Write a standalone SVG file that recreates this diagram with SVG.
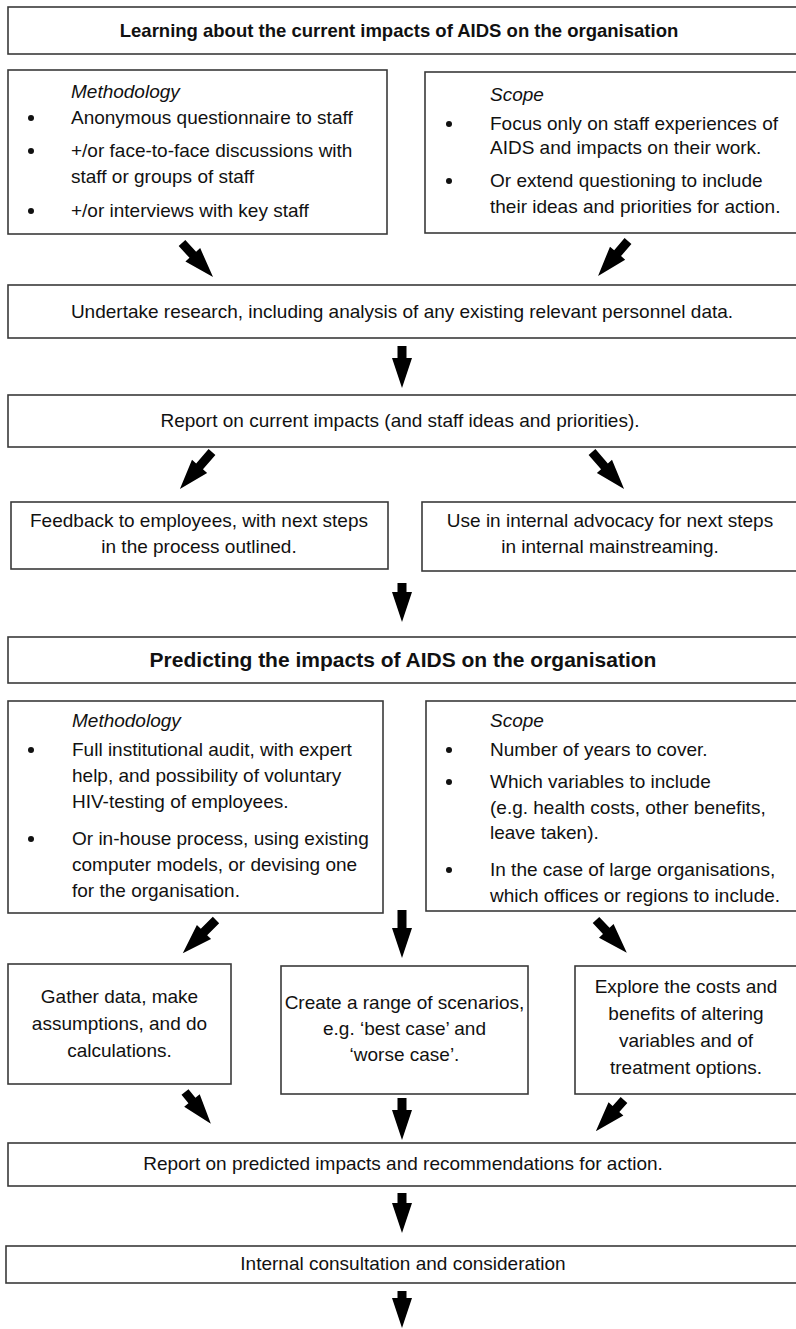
<svg xmlns="http://www.w3.org/2000/svg" xmlns:xlink="http://www.w3.org/1999/xlink" width="796" height="1329" viewBox="0 0 796 1329">
  <style>
    .box { fill: #ffffff; stroke: #3a3a3a; stroke-width: 1.6; }
    .t { font-family: "Liberation Sans", Arial, sans-serif; font-size: 19px; fill: #111; }
    .c { text-anchor: middle; }
    .it { font-style: italic; }
    .h1 { font-family: "Liberation Sans", Arial, sans-serif; font-size: 18.5px; font-weight: bold; fill: #111; text-anchor: middle; }
    .h2 { font-family: "Liberation Sans", Arial, sans-serif; font-size: 21px; font-weight: bold; fill: #111; text-anchor: middle; }
    .dot { fill: #111; }
    .arr { fill: #000; }
  </style>
  <rect width="796" height="1329" fill="#ffffff"/>

  <!-- Section 1 -->
  <g id="title-learning">
    <rect class="box" x="8" y="7" width="790" height="47"/>
    <text class="h1" x="399" y="37">Learning about the current impacts of AIDS on the organisation</text>
  </g>

  <g id="methodology-1">
    <rect class="box" x="8" y="70" width="379" height="164"/>
    <text class="t it" x="71" y="98">Methodology</text>
    <circle class="dot" cx="31" cy="118" r="3"/>
    <text class="t" x="71" y="124">Anonymous questionnaire to staff</text>
    <circle class="dot" cx="31" cy="151" r="3"/>
    <text class="t" x="71" y="157">+/or face-to-face discussions with</text>
    <text class="t" x="71" y="183">staff or groups of staff</text>
    <circle class="dot" cx="31" cy="211" r="3"/>
    <text class="t" x="71" y="217">+/or interviews with key staff</text>
  </g>

  <g id="scope-1">
    <rect class="box" x="425" y="72" width="373" height="161"/>
    <text class="t it" x="490" y="101">Scope</text>
    <circle class="dot" cx="449" cy="124" r="3"/>
    <text class="t" x="490" y="130">Focus only on staff experiences of</text>
    <text class="t" x="490" y="154">AIDS and impacts on their work.</text>
    <circle class="dot" cx="449" cy="181" r="3"/>
    <text class="t" x="490" y="187">Or extend questioning to include</text>
    <text class="t" x="490" y="213">their ideas and priorities for action.</text>
  </g>

  <g id="research">
    <rect class="box" x="8" y="285" width="790" height="53"/>
    <text class="t c" x="402" y="318">Undertake research, including analysis of any existing relevant personnel data.</text>
  </g>

  <g id="report-current">
    <rect class="box" x="8" y="395" width="790" height="52"/>
    <text class="t c" x="400" y="427">Report on current impacts (and staff ideas and priorities).</text>
  </g>

  <g id="feedback">
    <rect class="box" x="11" y="502" width="377" height="67"/>
    <text class="t c" x="199" y="527">Feedback to employees, with next steps</text>
    <text class="t c" x="199" y="553">in the process outlined.</text>
  </g>

  <g id="advocacy">
    <rect class="box" x="422" y="502" width="376" height="69"/>
    <text class="t c" x="610" y="527">Use in internal advocacy for next steps</text>
    <text class="t c" x="610" y="553">in internal mainstreaming.</text>
  </g>

  <!-- Section 2 -->
  <g id="title-predicting">
    <rect class="box" x="8" y="637" width="790" height="46"/>
    <text class="h2" x="403" y="667">Predicting the impacts of AIDS on the organisation</text>
  </g>

  <g id="methodology-2">
    <rect class="box" x="8" y="701" width="375" height="212"/>
    <text class="t it" x="72" y="727">Methodology</text>
    <circle class="dot" cx="31" cy="750" r="3"/>
    <text class="t" x="72" y="756">Full institutional audit, with expert</text>
    <text class="t" x="72" y="782">help, and possibility of voluntary</text>
    <text class="t" x="72" y="808">HIV-testing of employees.</text>
    <circle class="dot" cx="31" cy="839" r="3"/>
    <text class="t" x="72" y="845">Or in-house process, using existing</text>
    <text class="t" x="72" y="871">computer models, or devising one</text>
    <text class="t" x="72" y="897">for the organisation.</text>
  </g>

  <g id="scope-2">
    <rect class="box" x="426" y="701" width="372" height="210"/>
    <text class="t it" x="490" y="727">Scope</text>
    <circle class="dot" cx="449" cy="750" r="3"/>
    <text class="t" x="490" y="756">Number of years to cover.</text>
    <circle class="dot" cx="449" cy="782" r="3"/>
    <text class="t" x="490" y="788">Which variables to include</text>
    <text class="t" x="490" y="814">(e.g. health costs, other benefits,</text>
    <text class="t" x="490" y="839">leave taken).</text>
    <circle class="dot" cx="449" cy="870" r="3"/>
    <text class="t" x="490" y="876">In the case of large organisations,</text>
    <text class="t" x="490" y="902">which offices or regions to include.</text>
  </g>

  <g id="gather">
    <rect class="box" x="8" y="964" width="223" height="120"/>
    <text class="t c" x="119.5" y="1003">Gather data, make</text>
    <text class="t c" x="119.5" y="1030">assumptions, and do</text>
    <text class="t c" x="119.5" y="1057">calculations.</text>
  </g>

  <g id="scenarios">
    <rect class="box" x="281" y="966" width="247" height="128"/>
    <text class="t c" x="404.5" y="1009">Create a range of scenarios,</text>
    <text class="t c" x="404.5" y="1035">e.g. ‘best case’ and</text>
    <text class="t c" x="404.5" y="1061">‘worse case’.</text>
  </g>

  <g id="explore">
    <rect class="box" x="575" y="966" width="223" height="128"/>
    <text class="t c" x="686" y="993">Explore the costs and</text>
    <text class="t c" x="686" y="1020">benefits of altering</text>
    <text class="t c" x="686" y="1047">variables and of</text>
    <text class="t c" x="686" y="1074">treatment options.</text>
  </g>

  <g id="report-predicted">
    <rect class="box" x="8" y="1143" width="790" height="43"/>
    <text class="t c" x="403" y="1170">Report on predicted impacts and recommendations for action.</text>
  </g>

  <g id="consultation">
    <rect class="box" x="6" y="1246" width="792" height="37"/>
    <text class="t c" x="403" y="1270">Internal consultation and consideration</text>
  </g>

  <!-- Block arrows: each drawn along +x from its tail, then placed and turned -->
  <g id="connectors" class="arr">
    <path transform="translate(182,243) rotate(47.6)" d="M0,-4.5 H16 V-10 L46,0 L16,10 V4.5 H0 Z"/>
    <path transform="translate(628,241) rotate(130.6)" d="M0,-4.5 H16 V-10 L46,0 L16,10 V4.5 H0 Z"/>
    <path transform="translate(402,346) rotate(90)" d="M0,-4.5 H12 V-10 L42,0 L12,10 V4.5 H0 Z"/>
    <path transform="translate(212,452) rotate(130.9)" d="M0,-4.5 H19 V-10 L49,0 L19,10 V4.5 H0 Z"/>
    <path transform="translate(592,452) rotate(49.1)" d="M0,-4.5 H19 V-10 L49,0 L19,10 V4.5 H0 Z"/>
    <path transform="translate(402,583) rotate(90)" d="M0,-4.5 H9 V-10 L39,0 L9,10 V4.5 H0 Z"/>
    <path transform="translate(216,920) rotate(135)" d="M0,-4.5 H17 V-10 L47,0 L17,10 V4.5 H0 Z"/>
    <path transform="translate(402,910) rotate(90)" d="M0,-4.5 H18 V-10 L48,0 L18,10 V4.5 H0 Z"/>
    <path transform="translate(596,920) rotate(46.8)" d="M0,-4.5 H15 V-10 L45,0 L15,10 V4.5 H0 Z"/>
    <path transform="translate(185,1092) rotate(50.9)" d="M0,-4.5 H11 V-10 L41,0 L11,10 V4.5 H0 Z"/>
    <path transform="translate(402,1098) rotate(90)" d="M0,-4.5 H12 V-10 L42,0 L12,10 V4.5 H0 Z"/>
    <path transform="translate(624,1100) rotate(132.1)" d="M0,-4.5 H12 V-10 L42,0 L12,10 V4.5 H0 Z"/>
    <path transform="translate(402,1193) rotate(90)" d="M0,-4.5 H10 V-10 L40,0 L10,10 V4.5 H0 Z"/>
    <path transform="translate(402,1291) rotate(90)" d="M0,-4.5 H7 V-10 L37,0 L7,10 V4.5 H0 Z"/>
  </g>
</svg>
